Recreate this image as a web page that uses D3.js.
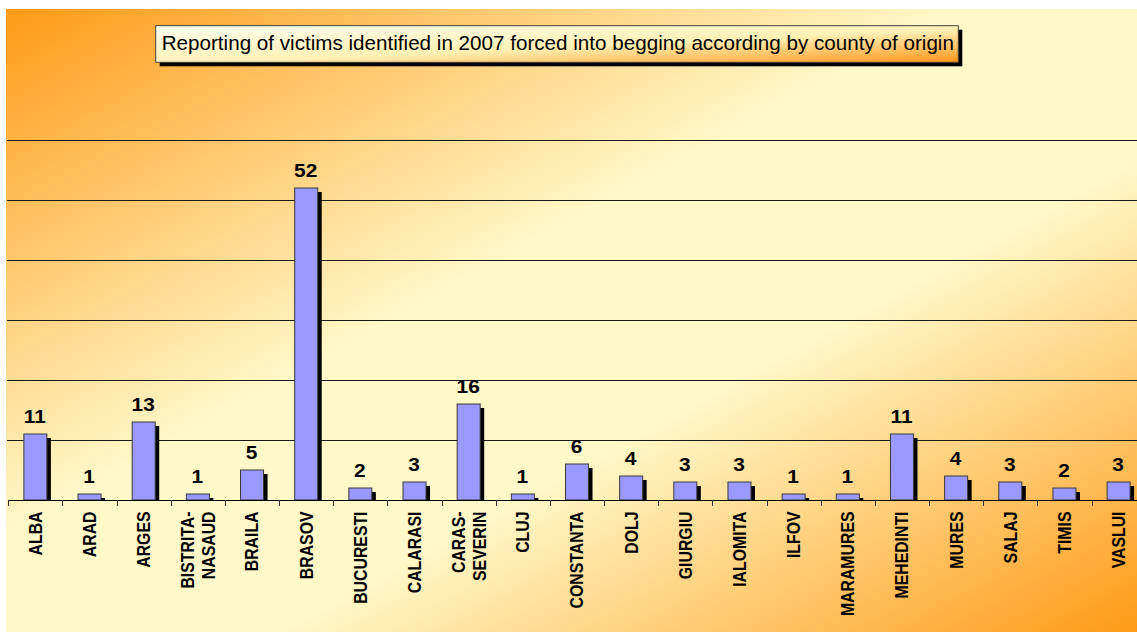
<!DOCTYPE html>
<html>
<head>
<meta charset="utf-8">
<script src="https://cdn.jsdelivr.net/npm/d3@7"></script>
<style>
  html, body { margin: 0; padding: 0; background: #ffffff; }
  svg { display: block; }
  text { font-family: "Liberation Sans", Arial, sans-serif; }
</style>
</head>
<body>
<svg id="chart" width="1137" height="632"></svg>
<script>
// ---- data ----
const categories = ["ALBA","ARAD","ARGES","BISTRITA-NASAUD","BRAILA","BRASOV","BUCURESTI","CALARASI","CARAS-SEVERIN","CLUJ","CONSTANTA","DOLJ","GIURGIU","IALOMITA","ILFOV","MARAMURES","MEHEDINTI","MURES","SALAJ","TIMIS","VASLUI"];
const values = [11,1,13,1,5,52,2,3,16,1,6,4,3,3,1,1,11,4,3,2,3];
const yTicks = [10,20,30,40,50,60];
const title = "Reporting of victims identified in 2007 forced into begging according by county of origin";

// ---- layout ----
const W = 1137, H = 632;
const svg = d3.select("#chart");
const defs = svg.append("defs");

const bg = defs.append("linearGradient").attr("id","bgGrad")
  .attr("x1",0).attr("y1",0).attr("x2",1).attr("y2",1);
bg.append("stop").attr("offset",0).attr("stop-color","#ff9a16");
bg.append("stop").attr("offset",0.42).attr("stop-color","#fff8c8");
bg.append("stop").attr("offset",0.62).attr("stop-color","#fff8c8");
bg.append("stop").attr("offset",1).attr("stop-color","#ff9a16");

const tg = defs.append("linearGradient").attr("id","titleGrad")
  .attr("x1",0).attr("y1",0).attr("x2",1).attr("y2",1);
tg.append("stop").attr("offset",0).attr("stop-color","#fffff0");
tg.append("stop").attr("offset",0.55).attr("stop-color","#fff0b4");
tg.append("stop").attr("offset",1).attr("stop-color","#ff961a");

defs.append("clipPath").attr("id","plotClip")
  .append("rect").attr("x",0).attr("y",0).attr("width",W).attr("height",H);

// chart background
svg.append("rect").attr("x",6).attr("y",9).attr("width",W-6).attr("height",H-9)
  .attr("fill","url(#bgGrad)");

const x = d3.scaleBand().domain(categories).range([8.3, 1145.7]).paddingInner(0).paddingOuter(0);
const y = d3.scaleLinear().domain([0,60]).range([500,140]);

const g = svg.append("g").attr("clip-path","url(#plotClip)");

// gridlines
g.selectAll("line.grid").data(yTicks).enter().append("line")
  .attr("class","grid")
  .attr("x1",7).attr("x2",W)
  .attr("y1",d=>Math.round(y(d))+0.5).attr("y2",d=>Math.round(y(d))+0.5)
  .attr("stroke","#1a1a1a").attr("stroke-width",1);

// bars
const bw = x.bandwidth()*0.425;
const bx = d => x(d) + (x.bandwidth()-bw)/2;
const shadowOff = 4;

g.selectAll("rect.shadow").data(categories).enter().append("rect")
  .attr("class","shadow")
  .attr("x",d=>bx(d)+shadowOff)
  .attr("y",(d,i)=>y(values[i])+shadowOff)
  .attr("width",bw)
  .attr("height",(d,i)=>Math.max(0, y(0)-y(values[i])-shadowOff))
  .attr("fill","#000");

g.selectAll("rect.bar").data(categories).enter().append("rect")
  .attr("class","bar")
  .attr("x",d=>bx(d))
  .attr("y",(d,i)=>y(values[i]))
  .attr("width",bw)
  .attr("height",(d,i)=>y(0)-y(values[i]))
  .attr("fill","#9999ff")
  .attr("stroke","#3a3a3a").attr("stroke-width",1);

// baseline axis
g.append("line").attr("x1",8).attr("x2",W)
  .attr("y1",500.5).attr("y2",500.5)
  .attr("stroke","#000").attr("stroke-width",1.2);

// ticks at category boundaries
const tickPos = categories.map(c=>x(c)).concat([x.range()[1]]);
g.selectAll("line.tick").data(tickPos).enter().append("line")
  .attr("class","tick")
  .attr("x1",d=>Math.round(d)+0.5).attr("x2",d=>Math.round(d)+0.5)
  .attr("y1",500).attr("y2",506)
  .attr("stroke","#333").attr("stroke-width",1);

// value labels (slightly widened, as in the original rendering)
g.selectAll("text.val").data(categories).enter().append("text")
  .attr("class","val")
  .attr("transform",(d,i)=>`translate(${x(d)+x.bandwidth()/2 - 0.5},${y(values[i]) - 11}) scale(1.13,1)`)
  .attr("text-anchor","middle")
  .attr("font-size","18.5px").attr("font-weight","bold").attr("fill","#000")
  .text((d,i)=>values[i]);

// category labels (rotated, hyphenated names split into two lines)
const labG = g.selectAll("g.lab").data(categories).enter().append("g")
  .attr("class","lab")
  .attr("transform",d=>`translate(${x(d)+x.bandwidth()/2},511.5) rotate(-90) scale(0.88,1)`);
labG.each(function(d){
  const parts = d.includes("-") ? [d.slice(0,d.indexOf("-")+1), d.slice(d.indexOf("-")+1)] : [d];
  const n = parts.length;
  const gap = 21;
  parts.forEach((p,k)=>{
    const off = (k-(n-1)/2)*gap;
    d3.select(this).append("text")
      .attr("x",0).attr("y",off + 6.4)
      .attr("text-anchor","end")
      .attr("font-size","18px").attr("font-weight","bold").attr("fill","#000")
      .text(p);
  });
});

// title box
const tb = {x0:155.7, y0:25.7, x1:958.3, y1:62.3};
svg.append("rect").attr("x",tb.x0+4).attr("y",tb.y0+4)
  .attr("width",tb.x1-tb.x0).attr("height",tb.y1-tb.y0).attr("fill","#000");
svg.append("rect").attr("x",tb.x0).attr("y",tb.y0)
  .attr("width",tb.x1-tb.x0).attr("height",tb.y1-tb.y0)
  .attr("fill","url(#titleGrad)").attr("stroke","#404040").attr("stroke-width",1);
const tt = svg.append("text").attr("x",161.7).attr("y",49.5)
  .attr("font-size","17.5px").attr("fill","#000").text(title);
// fit title width to the box
const target = 793;
const len = tt.node().getComputedTextLength();
tt.attr("font-size", (17.5*target/len).toFixed(2)+"px");
</script>
</body>
</html>
